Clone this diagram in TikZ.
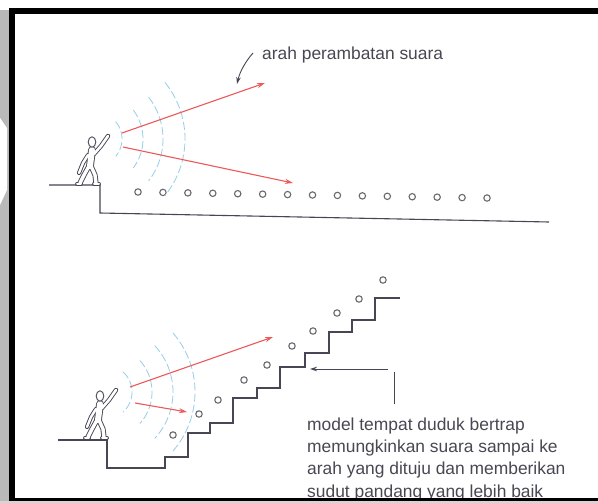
\documentclass[tikz,border=0pt]{standalone}
\usepackage{fontspec}
\setmainfont{Liberation Sans}
\usetikzlibrary{arrows.meta}
\definecolor{ink}{RGB}{70,70,84}
\definecolor{ray}{RGB}{238,88,88}
\definecolor{wave}{RGB}{150,206,230}
\definecolor{seat}{RGB}{105,105,112}
\definecolor{txt}{RGB}{72,72,82}
\definecolor{band}{RGB}{185,185,185}
\begin{document}
\begin{tikzpicture}[x=1pt,y=-1pt,
  floor/.style={draw=ink, line width=1.1pt, line join=miter},
  seatmark/.style={draw=seat, line width=1.1pt},
  soundray/.style={draw=ray, line width=1.1pt, -{Stealth[length=8pt,width=5pt]}},
  wavefront/.style={draw=wave, line width=0.8pt, dash pattern=on 8pt off 3pt},
  label/.style={font=\fontsize{17.4}{22}\selectfont, text=txt, inner sep=0pt, anchor=base west},
  pointer/.style={draw=ink, line width=0.9pt, -{Stealth[length=7pt,width=4.5pt]}},
  speaker/.pic={
    % hollow figure: every limb stroked dark and wide, then white and narrower
    \foreach \extra/\c in {1.8pt/ink, 0pt/white}{
      \begin{scope}[draw=\c, line cap=round, line join=round]
        \draw[line width=6pt+\extra] (3,-35) -- (1,-19);
        \draw[line width=2.6pt+\extra] (5,-31) -- (12,-39) -- (19,-49);
        \draw[line width=2.4pt+\extra] (-1,-30) -- (-6,-22) -- (-10,-12);
        \draw[line width=3.4pt+\extra] (0,-19) -- (-5,-10) -- (-9,-2);
        \draw[line width=3.4pt+\extra] (2,-19) -- (6,-10) -- (7,-2);
        \draw[line width=2pt+\extra] (-12,-1) -- (-8,-1) (5,-1) -- (10,-1);
      \end{scope}
    }
    \draw[ink, line width=0.9pt, fill=white] (3,-43) ellipse[x radius=3.8pt, y radius=5.2pt];
  },
]
\useasboundingbox (0,0) rectangle (598,503);
\fill[white] (0,0) rectangle (598,503);

% grey band along the left edge
\fill[band] (0,10) rectangle (9,503);
\fill[white] (0,118) -- (7,128) -- (7,190) -- (0,205) -- cycle;

% ---------- upper scene: flat floor ----------
\draw[floor] (49,185) -- (100,185) -- (100,213) -- (549,222);
\foreach \i in {0,...,14}{
  \draw[seatmark] ({138+24.93*\i},{192+0.43*\i}) circle[radius=3.2pt];
}
\foreach \r/\a in {27/40, 48/37, 68/38, 90/39}{
  \draw[wavefront] plot[domain=-\a:\a, samples=40] ({95+\r*cos(\x)},{139+\r*sin(\x)});
}
\pic at (89,185) {speaker};
\coordinate (ua1) at (122,133); \coordinate (ua2) at (265,83);
\coordinate (ub1) at (123,147); \coordinate (ub2) at (293,183);
\draw[soundray] (ua1) -- (ua2);
\draw[soundray] (ub1) -- (ub2);

\node[label] (dir) at (262,60) {arah perambatan suara};
\coordinate (dirtail) at (253,53);
\coordinate (dirtip) at (237,84);
\draw[pointer] (dirtail) .. controls (246,61) and (240,71) .. (dirtip);

% ---------- lower scene: stepped seating ----------
\draw[floor] (58,440) -- (107,440) -- (107,468) -- (165,468) -- (165,457)
  -- (188,457) -- (188,433) -- (210,433) -- (210,423) -- (233,423) -- (233,398)
  -- (257,398) -- (257,388) -- (280,388) -- (280,367) -- (305,367) -- (305,353)
  -- (329,353) -- (329,332) -- (352,332) -- (352,320) -- (375,320) -- (375,298)
  -- (400,298);
\foreach \x/\y in {173/435, 199/414, 218/400, 244/380, 267/365,
                   292/346, 313/331, 337/313, 359/299, 383/280}{
  \draw[seatmark] (\x,\y) circle[radius=3.2pt];
}
\foreach \r/\a in {27/48, 47/42, 68/43, 90/41}{
  \draw[wavefront] plot[domain=-\a:\a, samples=40] ({105+\r*cos(\x)},{392+\r*sin(\x)});
}
\pic at (97,439) {speaker};
\coordinate (la1) at (130,387); \coordinate (la2) at (273,337);
\coordinate (lb1) at (135,403); \coordinate (lb2) at (187,412);
\draw[soundray] (la1) -- (la2);
\draw[soundray] (lb1) -- (lb2);

\coordinate (ptail) at (388,369);
\coordinate (ptip) at (310,369);
\draw[pointer] (ptail) -- (ptip);
\coordinate (vtop) at (394,372);
\coordinate (vbot) at (394,404);
\draw[ink, line width=0.9pt] (vtop) -- (vbot);

\node[label] (t1) at (307,430)   {model tempat duduk bertrap};
\node[label] (t2) at (307,452.3) {memungkinkan suara sampai ke};
\node[label] (t3) at (307,474.6) {arah yang dituju dan memberikan};
\node[label] (t4) at (307,497)   {sudut pandang yang lebih baik};

% ---------- frame ----------
\fill[black] (9,8) rectangle (598,14);
\fill[black] (9,8) rectangle (15,500);
\fill[black] (9,498) rectangle (598,500.5);
\fill[band!60] (0,500.5) rectangle (598,503);
\end{tikzpicture}
\end{document}
